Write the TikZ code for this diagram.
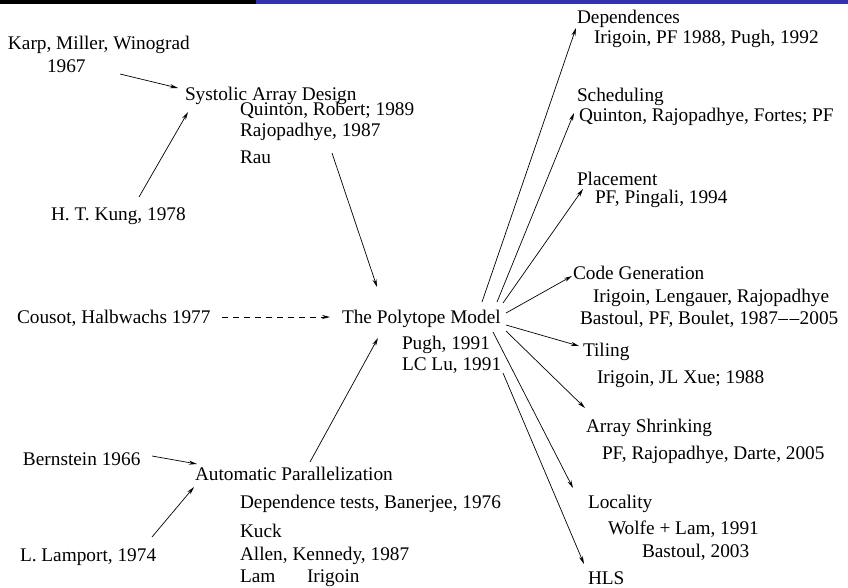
\documentclass[tikz,border=0pt]{standalone}
\usepackage{fontspec}
\setmainfont{Liberation Serif}
\usetikzlibrary{arrows.meta}
\definecolor{hdrblue}{RGB}{51,51,178}
\begin{document}
\begin{tikzpicture}[x=1pt,y=-1pt,
  lbl/.style={anchor=base west,inner sep=0pt,outer sep=0pt,font=\fontsize{19.3}{23}\selectfont},
  arr/.style={line width=0.7pt,-{Stealth[length=8pt,width=4pt]}},
  dasharr/.style={line width=0.7pt,dash pattern=on 6pt off 5pt,-{Stealth[length=8pt,width=4pt]}}]
\useasboundingbox (0,0) rectangle (848,587);
\fill[white] (0,0) rectangle (848,587);
\fill[black] (0,0) rectangle (256,4);
\fill[hdrblue] (256,0) rectangle (848,4);
% left texts
\node[lbl] (karp) at (8,49) {Karp, Miller, Winograd};
\node[lbl] (k1967) at (47,72) {1967};
\node[lbl] (systolic) at (185,100) {Systolic Array Design};
\node[lbl] (quinton) at (240,115) {Quinton, Robert; 1989};
\node[lbl] (rajo) at (240,136) {Rajopadhye, 1987};
\node[lbl] (rau) at (240,163) {Rau};
\node[lbl] (kung) at (51,220) {H. T. Kung, 1978};
\node[lbl] (cousot) at (17,323) {Cousot, Halbwachs 1977};
\node[lbl] (polytope) at (342,323) {The Polytope Model};
\node[lbl] (pugh) at (402,349) {Pugh, 1991};
\node[lbl] (lclu) at (402,370) {LC Lu, 1991};
\node[lbl] (bernstein) at (23,465) {Bernstein 1966};
\node[lbl] (automatic) at (195,480) {Automatic Parallelization};
\node[lbl] (deptests) at (240,508) {Dependence tests, Banerjee, 1976};
\node[lbl] (kuck) at (240,537) {Kuck};
\node[lbl] (lamport) at (20,561) {L. Lamport, 1974};
\node[lbl] (allen) at (240,560) {Allen, Kennedy, 1987};
\node[lbl] (lam) at (240,582) {Lam};
\node[lbl] (irigoinB) at (307,582) {Irigoin};
% right texts
\node[lbl] (dependences) at (577,23) {Dependences};
\node[lbl] (irigoinA) at (594,43) {Irigoin, PF 1988, Pugh, 1992};
\node[lbl] (scheduling) at (577,101) {Scheduling};
\node[lbl] (quintonB) at (579,121) {Quinton, Rajopadhye, Fortes; PF};
\node[lbl] (placement) at (577,185) {Placement};
\node[lbl] (pingali) at (595,203) {PF, Pingali, 1994};
\node[lbl] (codegen) at (573,279) {Code Generation};
\node[lbl] (lengauer) at (593,302) {Irigoin, Lengauer, Rajopadhye};
\node[lbl] (bastoul) at (580,324) {Bastoul, PF, Boulet, 1987\kern0.5pt\textendash\kern1.5pt\textendash\kern0.5pt2005};
\node[lbl] (tiling) at (583,356) {Tiling};
\node[lbl] (xue) at (597,383) {Irigoin, JL Xue; 1988};
\node[lbl] (shrinking) at (586,432) {Array Shrinking};
\node[lbl] (darte) at (602,459) {PF, Rajopadhye, Darte, 2005};
\node[lbl] (locality) at (588,508) {Locality};
\node[lbl] (wolfe) at (608,534) {Wolfe + Lam, 1991};
\node[lbl] (bastoulB) at (642,557) {Bastoul, 2003};
\node[lbl] (hls) at (588,584) {HLS};
% connector end points
\coordinate (karpOut) at (120,74);
\coordinate (sysInA) at (178,88);
\coordinate (kungOut) at (139,197);
\coordinate (sysInB) at (188,112);
\coordinate (sysOut) at (332,153);
\coordinate (polyInA) at (377,287);
\coordinate (cousotOut) at (222,317);
\coordinate (polyInB) at (330,317);
\coordinate (autoOut) at (310,462);
\coordinate (polyInC) at (378,338);
\coordinate (bernOut) at (152,456);
\coordinate (autoInA) at (197,464);
\coordinate (lampOut) at (152,537);
\coordinate (autoInB) at (194,487);
\coordinate (pDep) at (482,302);
\coordinate (depIn) at (576,28);
\coordinate (pSch) at (497,302);
\coordinate (schIn) at (574,113);
\coordinate (pPla) at (503,303);
\coordinate (plaIn) at (583,189);
\coordinate (pCod) at (506,313);
\coordinate (codIn) at (572,276);
\coordinate (pTil) at (506,325);
\coordinate (tilIn) at (579,346);
\coordinate (pShr) at (506,331);
\coordinate (shrIn) at (585,408);
\coordinate (pLoc) at (493,332);
\coordinate (locIn) at (573,488);
\coordinate (pHls) at (503,373);
\coordinate (hlsIn) at (584,564);
% connectors
\draw[arr] (karpOut) -- (sysInA);
\draw[arr] (kungOut) -- (sysInB);
\draw[arr] (sysOut) -- (polyInA);
\draw[dasharr] (cousotOut) -- (polyInB);
\draw[arr] (autoOut) -- (polyInC);
\draw[arr] (bernOut) -- (autoInA);
\draw[arr] (lampOut) -- (autoInB);
\draw[arr] (pDep) -- (depIn);
\draw[arr] (pSch) -- (schIn);
\draw[arr] (pPla) -- (plaIn);
\draw[arr] (pCod) -- (codIn);
\draw[arr] (pTil) -- (tilIn);
\draw[arr] (pShr) -- (shrIn);
\draw[arr] (pLoc) -- (locIn);
\draw[arr] (pHls) -- (hlsIn);
\end{tikzpicture}
\end{document}
